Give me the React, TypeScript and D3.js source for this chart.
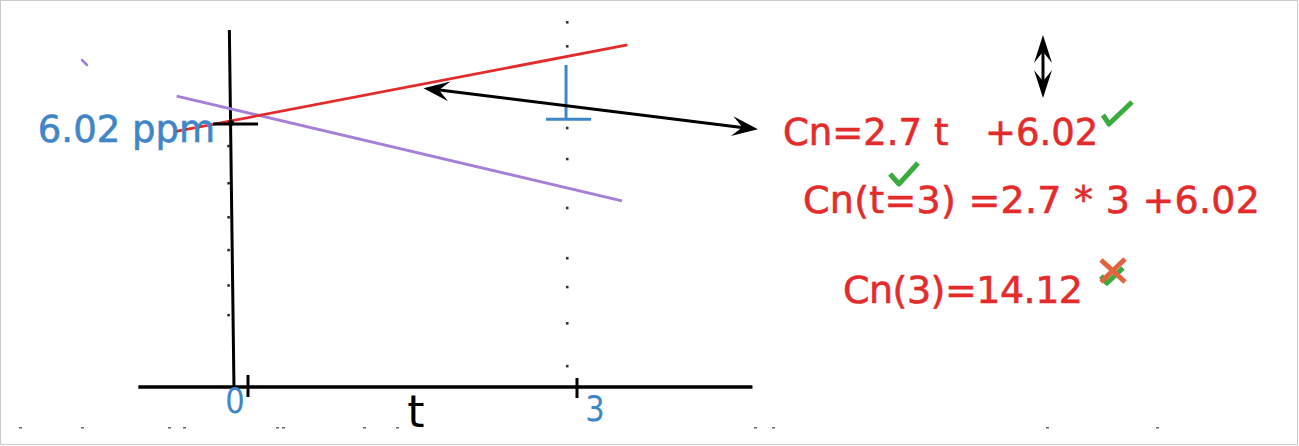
import React from 'react';
import * as d3 from 'd3';

const W = 1299;
const H = 446;

// sketch values, t on the x axis, concentration (ppm) on the y axis
const xTicks = [0, 3];
const xTickLabels = ['0', '3'];
const intercept = 6.02;

const redT = [-0.68, 3.46];
const redC = [5.84, 7.83];
const purpleT = [-0.65, 3.41];
const purpleC = [6.66, 4.26];

// dotted guide at t ≈ 3
const guideT = 2.91;
const guideDotsC = [8.35, 7.8, 5.93, 5.22, 4.1, 2.95, 2.29, 1.46, 0.48];

// small marks along the y axis
const yAxisDotsC = [5.52, 4.67, 3.89, 3.14, 2.33, 1.65];

// blue "T" marker on the guide
const markerT = 2.9;
const markerC = [7.37, 6.13];

// long double arrow (from the red line out to the equation)
const arrowT = [1.6, 4.65];
const arrowC = [6.84, 5.9];

const equations = ['Cn=2.7 t', '+6.02', 'Cn(t=3) =2.7 * 3 +6.02', 'Cn(3)=14.12'];

// cropped caption fragments at the bottom edge
const captionMarksX = [19, 81, 168, 183, 276, 282, 363, 396, 754, 772, 1046, 1156];

const RED = '#e42b2b';
const PURPLE = '#a67fd6';
const BLUE = '#3f86c8';
const GREEN = '#3aab3e';
const FONT = 'DejaVu Sans, Verdana, sans-serif';

const arrowHead = (tipX: number, tipY: number, fromX: number, fromY: number, len = 26, half = 10) => {
  const a = Math.atan2(tipY - fromY, tipX - fromX);
  const ux = Math.cos(a), uy = Math.sin(a);
  const px = -uy, py = ux;
  const bx = tipX - ux * len, by = tipY - uy * len;
  const nx = tipX - ux * len * 0.6, ny = tipY - uy * len * 0.6;
  return `M${tipX},${tipY}L${bx + px * half},${by + py * half}L${nx},${ny}L${bx - px * half},${by - py * half}Z`;
};

export default function App() {
  const x = d3.scaleLinear().domain([0, 3]).range([248, 577]);
  const y = d3.scaleLinear().domain([0, intercept]).range([387, 124]);

  const line = d3.line<[number, number]>().x(d => x(d[0])).y(d => y(d[1]));
  const red = line(redT.map((t, i) => [t, redC[i]]) as [number, number][]) || '';
  const purple = line(purpleT.map((t, i) => [t, purpleC[i]]) as [number, number][]) || '';

  const ax1 = x(arrowT[0]), ay1 = y(arrowC[0]);
  const ax2 = x(arrowT[1]), ay2 = y(arrowC[1]);

  const vx = 1043, vy1 = 35, vy2 = 98;
  const txt = { strokeWidth: 0.6, paintOrder: 'stroke' as const };

  return (
    <svg width={W} height={H} style={{ position: 'absolute', left: 0, top: 0, background: '#fff' }} fontFamily={FONT}>
      <defs>
        <clipPath id="crop">
          <rect x={0} y={0} width={W} height={427} />
        </clipPath>
      </defs>
      <rect x={0.5} y={0.5} width={1297} height={444} fill="#fff" stroke="#c9c9c9" />

      {/* stray purple mark */}
      <line x1={82} y1={60} x2={87} y2={65} stroke={PURPLE} strokeWidth={2.5} strokeLinecap="round" />

      {/* axes */}
      <line x1={x(-1)} x2={x(4.6)} y1={y(0)} y2={y(0)} stroke="#000" strokeWidth={3.5} />
      <line x1={x(-0.17)} y1={y(8.17)} x2={x(-0.128)} y2={y(0)} stroke="#000" strokeWidth={3} />
      {yAxisDotsC.map((c, i) => (
        <rect key={i} x={x(-0.17) - 2} y={y(c) - 1} width={2.5} height={2.5} fill="#222" />
      ))}

      {/* x ticks */}
      {xTicks.map((t, i) => {
        const lx = i ? x(t) + 18 : x(t) - 13;
        return (
          <g key={t}>
            <line x1={x(t)} x2={x(t)} y1={y(0) - (i ? 9 : 12)} y2={y(0) + (i ? 11 : 10)} stroke="#000" strokeWidth={3} />
            <text x={lx} y={i ? 421 : 413} fill={BLUE} fontSize={36} textAnchor="middle"
              transform={`translate(${lx},0) scale(0.85,1) translate(${-lx},0)`}>
              {xTickLabels[i]}
            </text>
          </g>
        );
      })}
      <text x={416} y={427} fontSize={44} textAnchor="middle" fill="#000" clipPath="url(#crop)">t</text>

      {/* dotted guide */}
      {guideDotsC.map((c, i) => (
        <rect key={i} x={x(guideT) - 1.2} y={y(c) - 1.2} width={2.6} height={2.6} fill="#333" />
      ))}

      {/* lines */}
      <path d={purple} stroke={PURPLE} strokeWidth={2.8} fill="none" />
      <path d={red} stroke={RED} strokeWidth={2.8} fill="none" />

      {/* intercept mark */}
      <line x1={213} x2={258} y1={y(intercept)} y2={y(intercept)} stroke="#000" strokeWidth={3} />
      <circle cx={231} cy={y(intercept) - 1} r={3} fill="#000" />
      <text x={215} y={142} fill={BLUE} stroke={BLUE} {...txt} fontSize={37} textAnchor="end">6.02 ppm</text>

      {/* blue T marker */}
      <line x1={x(markerT)} x2={x(markerT)} y1={y(markerC[0])} y2={y(markerC[1])} stroke={BLUE} strokeWidth={3} />
      <line x1={x(markerT) - 20} x2={x(markerT) + 25} y1={y(markerC[1])} y2={y(markerC[1])} stroke={BLUE} strokeWidth={3} />

      {/* long double arrow */}
      <line x1={ax1 + 10} y1={ay1 + 1} x2={ax2 - 10} y2={ay2 - 1} stroke="#000" strokeWidth={3} />
      <path d={arrowHead(ax1, ay1, ax2, ay2)} fill="#000" />
      <path d={arrowHead(ax2, ay2, ax1, ay1)} fill="#000" />

      {/* vertical double arrow */}
      <line x1={vx} x2={vx} y1={vy1 + 10} y2={vy2 - 10} stroke="#000" strokeWidth={3} />
      <path d={arrowHead(vx, vy1, vx, vy2, 28, 9)} fill="#000" />
      <path d={arrowHead(vx, vy2, vx, vy1, 28, 9)} fill="#000" />

      {/* equations */}
      <text y={145} fill={RED} stroke={RED} {...txt} fontSize={37}>
        <tspan x={783}>{equations[0]}</tspan>
        <tspan x={985}>{equations[1]}</tspan>
      </text>
      <text x={803} y={213} fill={RED} stroke={RED} {...txt} fontSize={38} textLength={457} lengthAdjust="spacing">{equations[2]}</text>
      <text x={843} y={303} fill={RED} stroke={RED} {...txt} fontSize={38} textLength={240} lengthAdjust="spacing">{equations[3]}</text>

      {/* checks and cross */}
      <path d="M1103,115L1109,124L1132,102" stroke={GREEN} strokeWidth={5} fill="none" strokeLinejoin="round" />
      <path d="M890,174L899,184L918,163" stroke={GREEN} strokeWidth={5} fill="none" strokeLinejoin="round" />
      <path d="M1101,276L1107,283L1123,268" stroke={GREEN} strokeWidth={5} fill="none" strokeLinejoin="round" />
      <path d="M1101,260L1125,282M1125,259L1101,282" stroke="#e2633c" strokeWidth={5} fill="none" />

      {/* cropped caption marks */}
      {captionMarksX.map((cx, i) => (
        <rect key={i} x={cx} y={427} width={3} height={1.5} fill="#666" />
      ))}
    </svg>
  );
}
